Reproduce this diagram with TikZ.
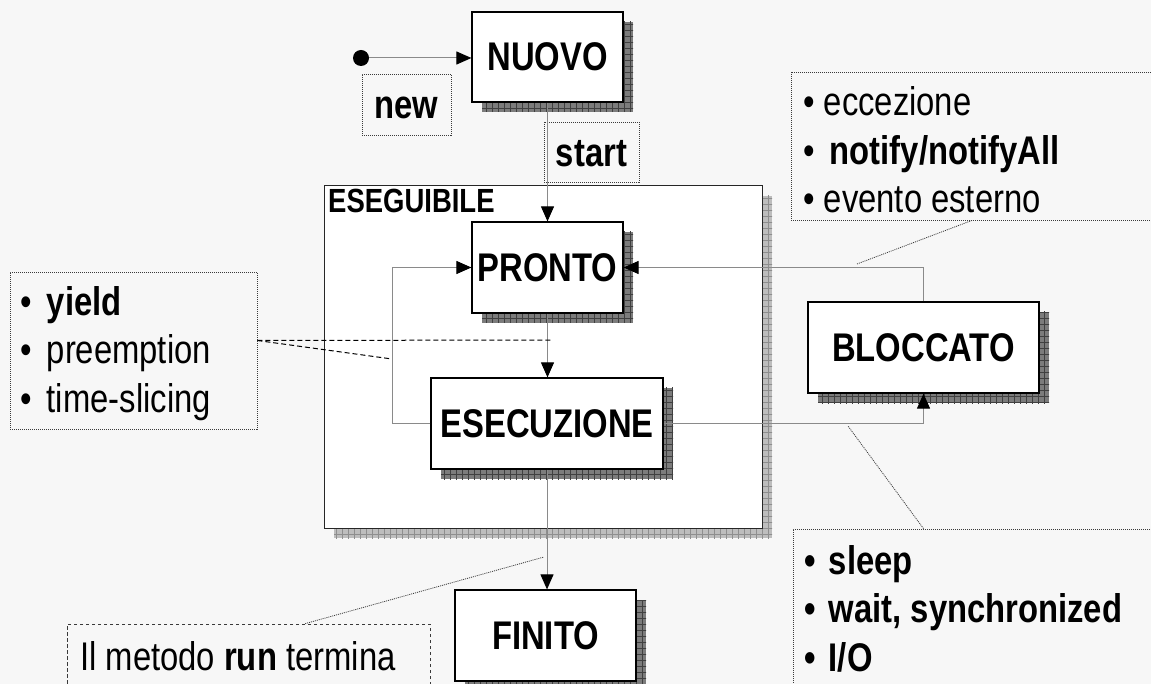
\documentclass[tikz,border=0pt]{standalone}
\usepackage{fontspec}
\setmainfont{Liberation Sans}[FakeStretch=0.82]
\usetikzlibrary{arrows.meta,patterns.meta,calc}

\definecolor{pagebg}{HTML}{F7F7F7}
\definecolor{shadowdark}{HTML}{7C7C7C}
\definecolor{griddark}{HTML}{404040}
\definecolor{shadowlight}{HTML}{BDBDBD}
\definecolor{gridlight}{HTML}{8E8E8E}
\definecolor{wire}{HTML}{8A8A8A}
\definecolor{note}{HTML}{3A3A3A}

% bullet followed by a gap of the given extra width
\newcommand\bulgap[1]{\textbullet\ \hspace{#1}}

\begin{document}
\begin{tikzpicture}[x=1pt,y=-1pt,
  gridshadow/.style 2 args={
    preaction={draw=none, fill=#1, transform canvas={shift={(10pt,-10pt)}}},
    preaction={draw=none, pattern={Hatch[distance=6pt,angle=0,line width=0.5pt]},
               pattern color=#2, transform canvas={shift={(10pt,-10pt)}}}},
  state/.style={draw=black, line width=1.2pt, fill=white, inner sep=0pt,
    font=\fontsize{40}{42}\selectfont\bfseries, gridshadow={shadowdark}{griddark}},
  container/.style={draw=black!85, line width=1pt, fill=white, inner sep=0pt,
    gridshadow={shadowlight}{gridlight}},
  notebox/.style={draw=note, line width=0.8pt, dash pattern=on 1pt off 1pt, inner sep=0pt},
  runbox/.style={draw=note, line width=0.8pt, dash pattern=on 3.5pt off 2.5pt, inner sep=0pt},
  notetext/.style={anchor=base west, inner sep=0pt, font=\fontsize{40}{44}\selectfont},
  conn/.style={draw=wire, line width=1pt, -{Triangle[length=15pt,width=13pt,color=black]}},
  noteline/.style={draw=note, line width=0.8pt, dash pattern=on 1pt off 1pt},
  hintline/.style={draw=black, line width=1pt, dash pattern=on 5pt off 3pt},
]
% page
\fill[pagebg] (0,0) rectangle (1151,684);
\useasboundingbox (0,0) rectangle (1151,684);

% the runnable super-state
\node[container, minimum width=438pt, minimum height=342pt] (eseg) at (543,357) {};
\node[anchor=base west, inner sep=0pt, font=\fontsize{33.5}{35}\selectfont\bfseries]
  (esegLabel) at (328,213) {ESEGUIBILE};

% states
\node[circle, fill=black, minimum size=16pt, inner sep=0pt] (init) at (361,58) {};
\node[state, minimum width=151pt, minimum height=90pt] (nuovo) at (547.5,57) {NUOVO};
\node[state, minimum width=151pt, minimum height=91pt] (pronto) at (547.5,267.5) {PRONTO};
\node[state, minimum width=232pt, minimum height=91pt] (esec) at (547,423.5) {ESECUZIONE};
\node[state, minimum width=231pt, minimum height=91pt] (blocc) at (923.5,347.5) {BLOCCATO};
\node[state, minimum width=181pt, minimum height=91pt] (finito) at (545.5,635.5) {FINITO};

% transition labels
\node[notebox, minimum width=89pt, minimum height=61pt, text height=29pt, text depth=0pt,
  font=\fontsize{40}{42}\selectfont\bfseries] (newbox) at (406.5,104.5) {new};
\node[notebox, minimum width=95pt, minimum height=60pt, text height=29pt, text depth=0pt,
  font=\fontsize{40}{42}\selectfont\bfseries] (startbox) at (591.5,152) {start};

% transitions
\draw[conn] (init.east) -- (init.east -| nuovo.west);
\draw[conn] (nuovo.south) -- (pronto.north);
\draw[conn] (pronto.south) -- (pronto.south |- esec.north);
\draw[conn] (esec.west) -- ++(-38,0) |- (pronto.west);
\draw[conn] (esec.east) -| (blocc.south);
\draw[conn] (blocc.north) |- (pronto.east);
\draw[conn] (esec.south) -- (esec.south |- finito.north);

% note: back to ready
\node[notebox, minimum width=247pt, minimum height=157pt] (yb) at (133.5,350.5) {};
\node[notetext] (yb1) at (20,315.5) {\bulgap{6pt}\textbf{yield}};
\node[notetext] (yb2) at (20,364) {\bulgap{6pt}preemption};
\node[notetext] (yb3) at (20,412.5) {\bulgap{6pt}time-slicing};
\coordinate (ybA) at (553,340);
\coordinate (ybB) at (392,359);
\draw[hintline] ([yshift=10pt]yb.east) -- (ybA);
\draw[hintline] ([yshift=10pt]yb.east) -- (ybB);

% note: unblocking
\node[notebox, minimum width=370pt, minimum height=148pt] (tb) at (976,146) {};
\node[notetext] (tb1) at (803,116) {\bulgap{0pt}eccezione};
\node[notetext] (tb2) at (803,164.5) {\bulgap{6pt}\textbf{notify/notifyAll}};
\node[notetext] (tb3) at (803,213) {\bulgap{0pt}evento esterno};
\coordinate (tbTip) at (857,264);
\draw[noteline] ([xshift=-4pt]tb.south) -- (tbTip);

% note: blocking
\node[notebox, minimum width=372pt, minimum height=171pt] (bb) at (979,614.5) {};
\node[notetext] (bb1) at (804,574) {\textbf{\bulgap{4pt}sleep}};
\node[notetext] (bb2) at (804,622.5) {\textbf{\bulgap{4pt}wait, synchronized}};
\node[notetext] (bb3) at (804,671) {\textbf{\bulgap{4pt}I/O}};
\coordinate (bbTip) at (848,426);
\draw[noteline] (blocc.south |- bb.north) -- (bbTip);

% note: termination
\node[runbox, minimum width=363pt, minimum height=76pt] (rb) at (248.5,662) {};
\node[notetext] (rb1) at (80,670) {Il metodo \textbf{run} termina};
\coordinate (rbTip) at (544,557);
\draw[noteline] ($(rb.north west)!0.656!(rb.north east)$) -- (rbTip);
\end{tikzpicture}
\end{document}
